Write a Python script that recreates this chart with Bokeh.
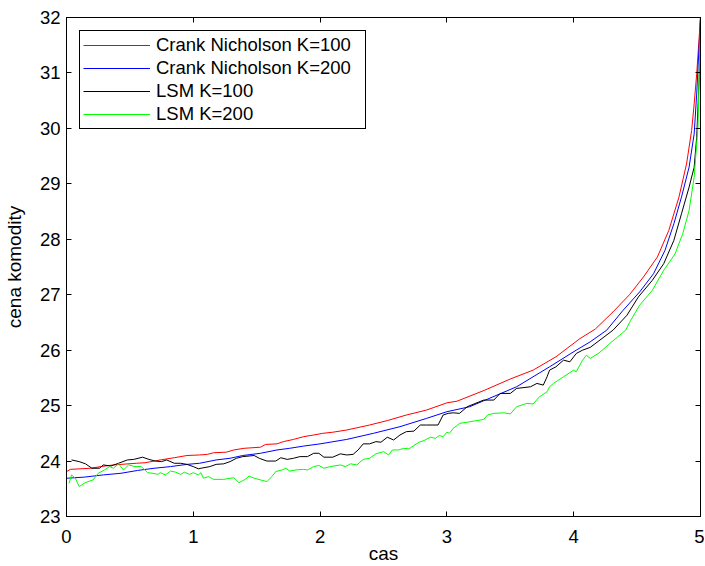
from bokeh.plotting import figure
from bokeh.models import Range1d, FixedTicker, LinearAxis, Legend, LegendItem
from bokeh.embed import file_html
from bokeh.resources import INLINE

# ---- data ----
cn100_x = [0, 0.03, 0.19, 0.27, 0.37, 0.55, 0.62, 0.74, 0.85, 0.95, 1.05, 1.11, 1.16, 1.26,
           1.32, 1.4, 1.53, 1.57, 1.66, 1.71, 1.79, 1.87, 1.95, 2.02, 2.1, 2.21, 2.39, 2.53,
           2.68, 2.84, 3.0, 3.08, 3.3, 3.5, 3.68, 3.86, 4.05, 4.17, 4.31, 4.44, 4.55, 4.66,
           4.75, 4.83, 4.89, 4.93, 4.95, 4.97, 5.0]
cn100_y = [23.81, 23.85, 23.87, 23.9, 23.93, 23.96, 23.97, 24.02, 24.06, 24.1, 24.11, 24.12,
           24.15, 24.16, 24.2, 24.23, 24.25, 24.3, 24.31, 24.35, 24.39, 24.44, 24.47, 24.5,
           24.52, 24.56, 24.65, 24.73, 24.83, 24.92, 25.05, 25.08, 25.28, 25.48, 25.64, 25.88,
           26.21, 26.38, 26.69, 27.0, 27.32, 27.68, 28.16, 28.76, 29.36, 29.96, 30.44, 30.98,
           32.0]

cn200_x = [0, 0.14, 0.29, 0.43, 0.56, 0.69, 0.82, 0.95, 1.05, 1.18, 1.29, 1.39, 1.53, 1.66,
           1.76, 1.87, 2.0, 2.21, 2.42, 2.63, 2.84, 3.0, 3.18, 3.55, 3.81, 4.02, 4.13, 4.26,
           4.39, 4.52, 4.63, 4.72, 4.79, 4.85, 4.91, 4.95, 4.97, 5.0]
cn200_y = [23.69, 23.71, 23.75, 23.78, 23.83, 23.87, 23.9, 23.94, 23.96, 24.02, 24.05, 24.1,
           24.14, 24.2, 24.23, 24.27, 24.31, 24.39, 24.5, 24.62, 24.77, 24.89, 24.98, 25.34,
           25.7, 26.0, 26.15, 26.36, 26.72, 27.05, 27.38, 27.8, 28.28, 28.76, 29.3, 29.9,
           30.62, 32.0]

lsm100_x = [0.04, 0.1, 0.15, 0.2, 0.26, 0.29, 0.35, 0.41, 0.48, 0.53, 0.6, 0.65, 0.7, 0.75,
            0.79, 0.85, 0.9, 0.95, 1.0, 1.04, 1.06, 1.13, 1.18, 1.24, 1.29, 1.34, 1.39, 1.48,
            1.52, 1.58, 1.65, 1.69, 1.74, 1.79, 1.84, 1.9, 1.95, 1.99, 2.03, 2.1, 2.16, 2.21,
            2.26, 2.3, 2.34, 2.39, 2.44, 2.48, 2.53, 2.58, 2.63, 2.68, 2.74, 2.79, 2.84, 2.93,
            2.97, 3.01, 3.05, 3.1, 3.16, 3.29, 3.37, 3.42, 3.5, 3.55, 3.66, 3.71, 3.76, 3.79,
            3.81, 3.86, 3.92, 3.97, 4.02, 4.07, 4.13, 4.31, 4.42, 4.51, 4.62, 4.71, 4.79, 4.85,
            4.91, 4.95, 4.97, 4.99, 5.0]
lsm100_y = [24.02, 23.99, 23.95, 23.87, 23.87, 23.93, 23.91, 23.96, 24.02, 24.03, 24.07, 24.03,
            24.0, 23.99, 24.02, 23.96, 23.96, 23.94, 23.9, 23.86, 23.87, 23.9, 23.94, 23.95,
            23.99, 24.05, 24.08, 24.1, 24.05, 24.0, 24.0, 24.06, 24.03, 24.05, 24.08, 24.08,
            24.14, 24.14, 24.07, 24.07, 24.13, 24.11, 24.12, 24.2, 24.31, 24.31, 24.35, 24.34,
            24.43, 24.38, 24.47, 24.53, 24.54, 24.65, 24.65, 24.65, 24.83, 24.86, 24.87, 24.86,
            24.98, 25.1, 25.1, 25.22, 25.22, 25.31, 25.34, 25.4, 25.37, 25.52, 25.64, 25.7,
            25.82, 25.79, 25.94, 26.0, 26.05, 26.36, 26.63, 26.96, 27.26, 27.56, 27.98, 28.46,
            28.94, 29.3, 29.84, 30.91, 32.0]

lsm200_x = [0.02, 0.04, 0.07, 0.1, 0.14, 0.17, 0.21, 0.25, 0.3, 0.34, 0.37, 0.41, 0.45, 0.49,
            0.54, 0.59, 0.64, 0.68, 0.72, 0.74, 0.78, 0.82, 0.86, 0.9, 0.93, 0.97, 1.0, 1.04,
            1.06, 1.08, 1.12, 1.16, 1.24, 1.32, 1.36, 1.41, 1.44, 1.48, 1.53, 1.58, 1.62, 1.65,
            1.7, 1.73, 1.76, 1.81, 1.87, 1.9, 1.95, 1.99, 2.03, 2.08, 2.16, 2.2, 2.24, 2.29,
            2.34, 2.39, 2.44, 2.5, 2.54, 2.57, 2.62, 2.66, 2.7, 2.74, 2.78, 2.82, 2.87, 2.91,
            2.94, 2.97, 3.0, 3.02, 3.05, 3.08, 3.1, 3.16, 3.21, 3.29, 3.32, 3.37, 3.45, 3.5,
            3.55, 3.63, 3.68, 3.73, 3.79, 3.81, 3.84, 3.92, 4.0, 4.02, 4.07, 4.1, 4.13, 4.2,
            4.3, 4.41, 4.45, 4.52, 4.62, 4.71, 4.8, 4.86, 4.91, 4.95, 4.98, 5.0]
lsm200_y = [23.6, 23.75, 23.69, 23.54, 23.6, 23.63, 23.66, 23.78, 23.84, 23.9, 23.87, 23.95,
            23.84, 23.93, 23.9, 23.9, 23.79, 23.78, 23.76, 23.79, 23.75, 23.82, 23.8, 23.76,
            23.8, 23.76, 23.79, 23.75, 23.79, 23.69, 23.72, 23.67, 23.67, 23.7, 23.61, 23.67,
            23.73, 23.69, 23.66, 23.63, 23.72, 23.81, 23.84, 23.87, 23.82, 23.84, 23.85, 23.84,
            23.9, 23.92, 23.87, 23.9, 23.93, 23.9, 23.95, 23.93, 24.03, 24.05, 24.13, 24.17,
            24.11, 24.2, 24.2, 24.23, 24.22, 24.28, 24.34, 24.37, 24.43, 24.41, 24.46, 24.44,
            24.52, 24.5, 24.59, 24.64, 24.68, 24.7, 24.72, 24.75, 24.83, 24.86, 24.87, 24.85,
            24.98, 25.04, 25.03, 25.16, 25.25, 25.34, 25.4, 25.52, 25.64, 25.61, 25.82, 25.91,
            25.85, 25.95, 26.15, 26.36, 26.54, 26.81, 27.08, 27.44, 27.74, 28.1, 28.52, 29.12,
            30.02, 32.0]

x_ticks = [0, 1, 2, 3, 4, 5]
y_ticks = [23, 24, 25, 26, 27, 28, 29, 30, 31, 32]
labels = ["Crank Nicholson K=100", "Crank Nicholson K=200", "LSM K=100", "LSM K=200"]
colors = ["#ff0000", "#0000ff", "#000000", "#00ff00"]

FONT = "Liberation Sans"

p = figure(width=704, height=566, output_backend="svg", toolbar_location=None,
           x_range=Range1d(0, 5), y_range=Range1d(23, 32),
           min_border_left=66, min_border_right=4, min_border_top=17, min_border_bottom=49,
           x_axis_label="cas", y_axis_label="cena komodity")
p.grid.visible = False
p.outline_line_color = "black"
p.outline_line_width = 1
p.background_fill_color = "white"
p.border_fill_color = "white"

series = [(cn100_x, cn100_y), (cn200_x, cn200_y), (lsm100_x, lsm100_y), (lsm200_x, lsm200_y)]
renderers = []
for (xs, ys), c in zip(series, colors):
    renderers.append(p.line(xs, ys, line_color=c, line_width=1))

for ax in p.xaxis:
    ax.ticker = FixedTicker(ticks=x_ticks)
for ax in p.yaxis:
    ax.ticker = FixedTicker(ticks=y_ticks)

for ax in list(p.xaxis) + list(p.yaxis):
    ax.major_tick_in = 5
    ax.major_tick_out = 0
    ax.minor_tick_line_color = None
    ax.axis_line_color = "black"
    ax.major_tick_line_color = "black"
    ax.major_label_text_font = FONT
    ax.major_label_text_font_size = "18.5px"
    ax.major_label_text_color = "black"
    ax.axis_label_text_font = FONT
    ax.axis_label_text_font_size = "19px"
    ax.axis_label_text_font_style = "normal"
    ax.axis_label_text_color = "black"

p.xaxis.major_label_standoff = 13
p.xaxis.axis_label_standoff = -3
p.yaxis.major_label_standoff = 6
p.yaxis.axis_label_standoff = 12

blank_x = {t: "" for t in x_ticks}
blank_y = {t: "" for t in y_ticks}
top = LinearAxis(ticker=FixedTicker(ticks=x_ticks), major_tick_in=5, major_tick_out=0,
                 minor_tick_line_color=None, major_label_overrides=blank_x,
                 major_label_text_font_size="1px", major_label_standoff=0,
                 axis_line_color="black")
right = LinearAxis(ticker=FixedTicker(ticks=y_ticks), major_tick_in=5, major_tick_out=0,
                   minor_tick_line_color=None, major_label_overrides=blank_y,
                   major_label_text_font_size="1px", major_label_standoff=0,
                   axis_line_color="black")
p.add_layout(top, "above")
p.add_layout(right, "right")

legend = Legend(items=[LegendItem(label=l, renderers=[r]) for l, r in zip(labels, renderers)],
                location=(13, 387))
legend.border_line_color = "black"
legend.border_line_width = 1
legend.border_line_alpha = 1
legend.background_fill_color = "white"
legend.background_fill_alpha = 1
legend.label_text_font = FONT
legend.label_text_font_size = "18.5px"
legend.label_text_color = "black"
legend.glyph_width = 67
legend.glyph_height = 22
legend.label_height = 22
legend.label_width = 206
legend.label_standoff = 6
legend.spacing = 1
legend.padding = 3
p.add_layout(legend)

open("out.html", "w").write(file_html(p, INLINE))
